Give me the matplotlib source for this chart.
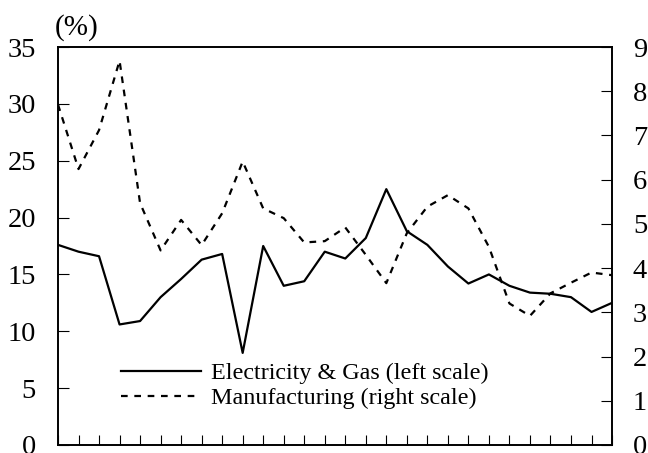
import matplotlib.pyplot as plt
import numpy as np

plt.rcParams['font.family'] = ['Liberation Serif', 'DejaVu Serif']

# (28 periods)
elec = [17.6, 17.0, 16.6, 10.6, 10.9, 13.0, 14.6, 16.3, 16.8, 8.1,
        17.5, 14.0, 14.4, 17.0, 16.4, 18.2, 22.5, 18.8, 17.6, 15.7,
        14.2, 15.0, 14.0, 13.4, 13.3, 13.0, 11.7, 12.5]
manuf = [7.7, 6.24, 7.12, 8.69, 5.47, 4.4, 5.09, 4.52, 5.24, 6.41,
         5.35, 5.13, 4.58, 4.61, 4.92, 4.30, 3.66, 4.79, 5.39, 5.65,
         5.35, 4.48, 3.20, 2.92, 3.43, 3.67, 3.90, 3.84]
left_ticks = [0, 5, 10, 15, 20, 25, 30, 35]
right_ticks = [0, 1, 2, 3, 4, 5, 6, 7, 8, 9]

x = np.arange(len(elec))

fig = plt.figure(figsize=(6.48, 4.53), dpi=100)
ax = fig.add_axes([0.0895, 0.0177, 0.855, 0.8785])
ax2 = ax.twinx()

l1, = ax.plot(x, elec, color="black", lw=1.6, label="Electricity & Gas (left scale)")
l2, = ax2.plot(x, manuf, color="black", lw=1.6, dashes=(3, 3),
               label="Manufacturing (right scale)")

ax.set_xlim(0, len(elec) - 1)
ax.set_ylim(0, 35)
ax2.set_ylim(0, 9)
ax.set_xticks(x)
ax.set_xticklabels([])
ax.set_yticks(left_ticks)
ax2.set_yticks(right_ticks)

ax.tick_params(axis="x", direction="in", length=7, width=0.8)
ax.tick_params(axis="y", direction="in", length=8, width=0.8, pad=16, labelsize=20.5)
ax2.tick_params(axis="y", direction="in", length=8, width=0.8, pad=15, labelsize=20.5)
for a in (ax, ax2):
    for s in a.spines.values():
        s.set_linewidth(1.2)

ax.text(-0.006, 1.015, "(%)", transform=ax.transAxes, fontsize=21, ha="left", va="bottom")

ax.legend(handles=[l1, l2], loc="upper left", bbox_to_anchor=(0.096, 0.232),
          frameon=False, fontsize=17.4, handlelength=3.3, handletextpad=0.45,
          labelspacing=0.12, borderaxespad=0)

plt.savefig("out.png", dpi=100)
